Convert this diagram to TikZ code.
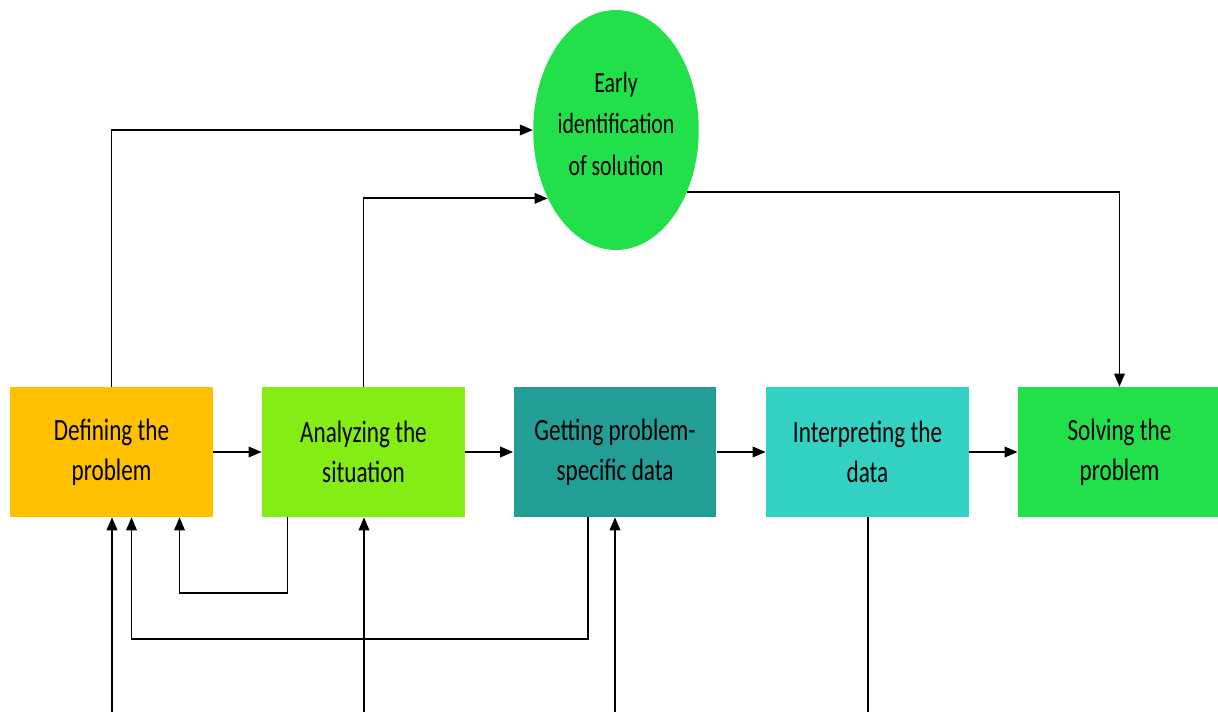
\documentclass[tikz,border=0pt]{standalone}
\usepackage{fontspec}
\setmainfont{Carlito}[FakeStretch=0.75]
\usetikzlibrary{arrows.meta, calc, shapes.geometric}
\definecolor{defcol}{RGB}{255,192,0}
\definecolor{anacol}{RGB}{132,238,20}
\definecolor{getcol}{RGB}{35,158,150}
\definecolor{intcol}{RGB}{51,209,196}
\definecolor{solcol}{RGB}{34,224,74}
\begin{document}
\begin{tikzpicture}[x=0.02cm, y=-0.02cm,
        stepbox/.style={rectangle, minimum width=4.06cm, minimum height=2.6cm, inner sep=0pt, align=center, font=\fontsize{17.6}{22.8}\selectfont},
        link/.style={line width=1.1pt, -{Triangle[length=2.6mm, width=2.1mm]}}]
        \useasboundingbox (0,0) rectangle (1218,712);
        \node[stepbox, fill=defcol] (def) at (111.5,452) {Defining the\\problem};
        \node[stepbox, fill=anacol] (ana) at (363.5,452) {Analyzing the\\situation};
        \node[stepbox, fill=getcol] (get) at (615,452) {Getting problem-\\specific data};
        \node[stepbox, fill=intcol] (int) at (867.5,452) {Interpreting the\\data};
        \node[stepbox, fill=solcol] (sol) at (1119.5,452) {Solving the\\problem};
        \node[ellipse, fill=solcol, minimum width=3.24cm, minimum height=4.8cm, inner sep=0pt, align=center, text depth=7pt, font=\fontsize{16.6}{23.6}\selectfont] (early) at (616,130) {Early\\identification\\of solution};
        \coordinate (b1) at (112,712);
        \coordinate (b2) at (364,712);
        \coordinate (b3) at (615,712);
        \coordinate (b4) at (868,712);
        \draw[link] (def.east) -- (ana.west);
        \draw[link] (ana.east) -- (get.west);
        \draw[link] (get.east) -- (int.west);
        \draw[link] (int.east) -- (sol.west);
        \draw[link] (def.north) |- (early.west);
        \draw[link] (ana.north) |- (early.225);
        \draw[link] (early.-41) -| (sol.north);
        \draw[link] ($(ana.south)+(-76,0)$) -- ++(0,76) -| ($(def.south)+(68,0)$);
        \draw[link] ($(get.south)+(-27,0)$) -- ++(0,122) -| ($(def.south)+(20,0)$);
        \draw[link] (b1) -- (b1 |- def.south);
        \draw[link] (b2) -- (b2 |- ana.south);
        \draw[link] (b3) -- (b3 |- get.south);
        \draw[line width=1.1pt] (b4 |- int.south) -- (b4);
    \end{tikzpicture}
\end{document}
